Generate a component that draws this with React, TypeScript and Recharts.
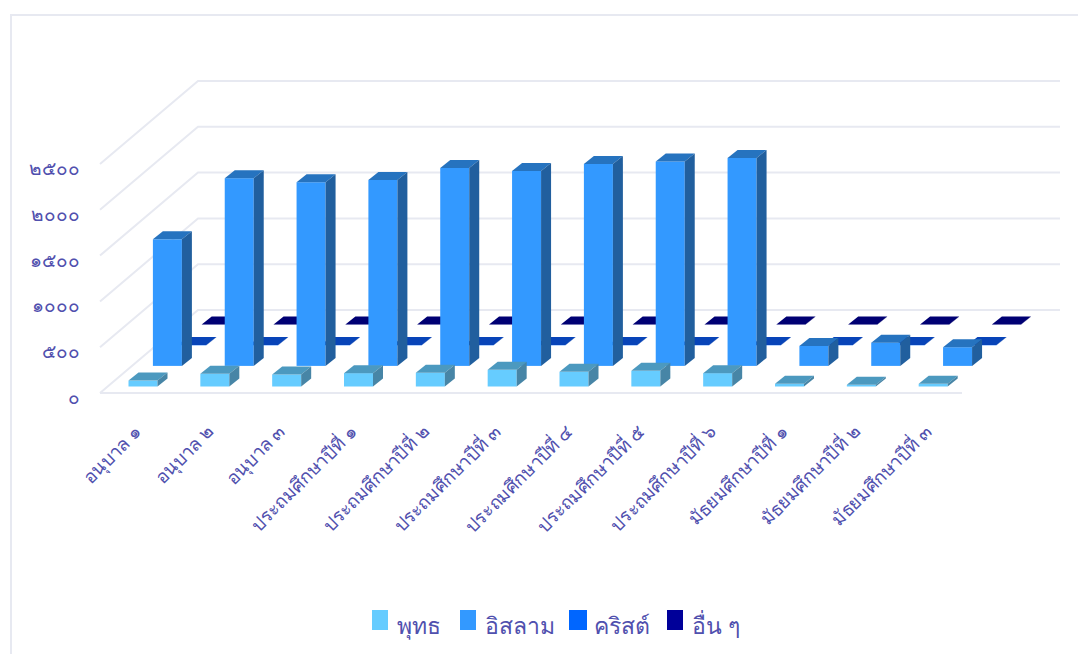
import {Bar, BarChart, CartesianGrid, Legend, XAxis, YAxis} from 'recharts';

const categories = [
    'อนุบาล ๑', 'อนุบาล ๒', 'อนุบาล ๓',
    'ประถมศึกษาปีที่ ๑', 'ประถมศึกษาปีที่ ๒', 'ประถมศึกษาปีที่ ๓',
    'ประถมศึกษาปีที่ ๔', 'ประถมศึกษาปีที่ ๕', 'ประถมศึกษาปีที่ ๖',
    'มัธยมศึกษาปีที่ ๑', 'มัธยมศึกษาปีที่ ๒', 'มัธยมศึกษาปีที่ ๓',
];

const buddhist = [65, 139, 131, 146, 150, 182, 160, 171, 146, 29, 18, 29];
const islam = [1382, 2049, 2005, 2030, 2161, 2129, 2205, 2232, 2270, 218, 254, 204];
const christian = [4, 4, 3, 4, 4, 3, 4, 3, 3, 3, 3, 3];
const others = [1, 1, 1, 1, 1, 1, 1, 1, 1, 1, 1, 1];

const yTicks = [0, 500, 1000, 1500, 2000, 2500];
const thaiDigits = ['๐', '๑', '๒', '๓', '๔', '๕', '๖', '๗', '๘', '๙'];

const seriesNames = ['พุทธ', 'อิสลาม', 'คริสต์', 'อื่น ๆ'];
const seriesKeys = ['buddhist', 'islam', 'christian', 'others'];
const frontColors = ['#66ccff', '#3399ff', '#0066ff', '#000099'];
const topColors = ['#4c99bf', '#2673bf', '#0844b8', '#000073'];
const sideColors = ['#4785a6', '#215f9e', '#063a9f', '#000063'];

const data = categories.map((name, i) => ({
    name,
    buddhist: buddhist[i],
    islam: islam[i],
    christian: christian[i],
    others: others[i],
}));

const TEXT_COLOR = '#5050ae';
const GRID_COLOR = '#e7e9f1';
const FONT = '"Noto Sans", "DejaVu Sans", sans-serif';

// pseudo 3d: the floor goes back by this much, split in 4 rows
const FLOOR_DX = 98;
const FLOOR_DY = -83;
const ROW_DX = 24.4;
const ROW_DY = -20.6;
const BAR_DX = 10;
const BAR_DY = -8;

const toThai = (n: number) => String(n).replace(/\d/g, d => thaiDigits[Number(d)]);

const makeBar = (row: number) => (props: any) => {
    const {x, y, width, height} = props;
    const left = x + 7.5 + row * ROW_DX;
    const top = y - 6.5 + row * ROW_DY;
    const right = left + width;
    const bottom = top + height;
    return (
        <g>
            <rect x={left} y={top} width={width} height={height} fill={frontColors[row]} />
            <polygon
                points={`${left},${top} ${right},${top} ${right + BAR_DX},${top + BAR_DY} ${left + BAR_DX},${top + BAR_DY}`}
                fill={topColors[row]}
            />
            <polygon
                points={`${right},${top} ${right + BAR_DX},${top + BAR_DY} ${right + BAR_DX},${bottom + BAR_DY} ${right},${bottom}`}
                fill={sideColors[row]}
            />
        </g>
    );
};

const gridLine = (props: any) => {
    const {x1, x2, y1, index} = props;
    const backY = y1 + FLOOR_DY;
    return (
        <g key={`grid-${index}`}>
            <polyline
                points={`${x1},${y1} ${x1 + FLOOR_DX},${backY} ${x2 + FLOOR_DX},${backY}`}
                fill="none"
                stroke={GRID_COLOR}
                strokeWidth={2}
            />
            {index === 0 && <line x1={x1} y1={y1} x2={x2} y2={y1} stroke={GRID_COLOR} strokeWidth={2} />}
        </g>
    );
};

const YTick = (props: any) => (
    <text x={80} y={props.y + 11} textAnchor="end" fontSize={19} fontFamily={FONT} fill={TEXT_COLOR}>
        {toThai(props.payload.value)}
    </text>
);

const XTick = (props: any) => (
    <text
        x={props.x + 7}
        y={props.y + 32}
        textAnchor="end"
        fontSize={18.5}
        fontFamily={FONT}
        fill={TEXT_COLOR}
        transform={`rotate(-45 ${props.x + 7} ${props.y + 32})`}
    >
        {props.payload.value}
    </text>
);

const legendLefts = [372, 460, 569, 667];

const LegendBox = () => (
    <div style={{position: 'relative', width: 1078, height: 61, pointerEvents: 'none'}}>
        {seriesNames.map((name, i) => (
            <div key={name}>
                <div
                    style={{
                        position: 'absolute',
                        left: legendLefts[i],
                        top: 17,
                        width: i === 2 ? 18 : 16,
                        height: 20,
                        background: frontColors[i],
                    }}
                />
                <div
                    style={{
                        position: 'absolute',
                        left: legendLefts[i] + 25,
                        top: 14,
                        fontSize: 23,
                        lineHeight: '36px',
                        fontFamily: FONT,
                        color: TEXT_COLOR,
                        whiteSpace: 'nowrap',
                    }}
                >
                    {name}
                </div>
            </div>
        ))}
    </div>
);

export default function App() {
    return (
        <div style={{position: 'absolute', left: 0, top: 0, width: 1078, height: 654, background: '#fff', overflow: 'hidden'}}>
            <div
                style={{
                    position: 'absolute',
                    left: 10,
                    top: 14,
                    width: 1068,
                    height: 640,
                    borderLeft: `2px solid ${GRID_COLOR}`,
                    borderTop: `2px solid ${GRID_COLOR}`,
                    boxSizing: 'border-box',
                }}
            />
            <BarChart
                width={1078}
                height={654}
                data={data}
                barSize={29}
                barGap={-29}
                margin={{top: 164, right: 116, left: 0, bottom: 0}}
                style={{position: 'absolute', left: 0, top: 0}}
            >
                <CartesianGrid horizontal={gridLine} vertical={false} />
                <XAxis
                    dataKey={'name'}
                    height={200}
                    interval={0}
                    tickLine={false}
                    axisLine={false}
                    tick={XTick}
                />
                <YAxis
                    width={100}
                    domain={[0, 2500]}
                    ticks={yTicks}
                    tickLine={false}
                    axisLine={false}
                    tick={YTick}
                />
                <Legend
                    height={61}
                    verticalAlign="bottom"
                    content={LegendBox}
                    wrapperStyle={{left: 0, bottom: 0, width: 1078}}
                />
                {/* far row first so the nearer rows paint over it */}
                {[3, 2, 1, 0].map(row => (
                    <Bar
                        key={seriesKeys[row]}
                        dataKey={seriesKeys[row]}
                        name={seriesNames[row]}
                        fill={frontColors[row]}
                        shape={makeBar(row)}
                        isAnimationActive={false}
                    />
                ))}
            </BarChart>
        </div>
    );
}
